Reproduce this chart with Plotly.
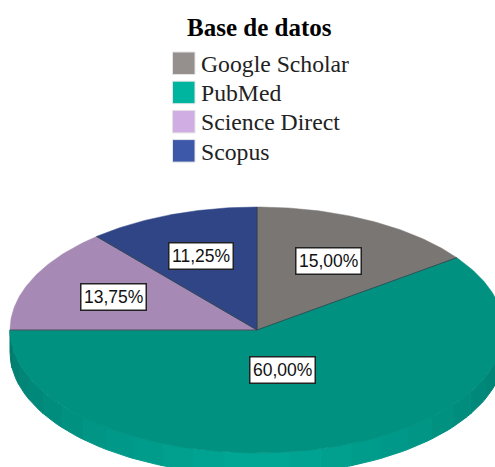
import math
import plotly.graph_objects as go

title = "Base de datos"
categories = ["Google Scholar", "PubMed", "Science Direct", "Scopus"]
values = [15.00, 60.00, 13.75, 11.25]
pie_colors = ["#7a7674", "#009180", "#a68ab5", "#304585"]
legend_colors = ["#958f8d", "#00b5a0", "#d0aee3", "#3d58a8"]

W, H = 495, 467
CX, CY, RX, RY, DEPTH = 257, 330, 247, 123, 22
label_centres = [(328, 261), (282, 370), (113, 297), (201, 256)]


def pt(frac, dy=0):
    a = 2 * math.pi * frac
    return CX + RX * math.sin(a), CY - RY * math.cos(a) + dy


def arc(f0, f1, dy=0, step=0.002):
    n = max(2, int(abs(f1 - f0) / step))
    return [pt(f0 + (f1 - f0) * i / n, dy) for i in range(n + 1)]


fig = go.Figure()

# Rim: a stepped shade along the visible lower half of the PubMed slice
bands = 24
for i in range(bands):
    f0 = 0.25 + 0.5 * i / bands
    f1 = 0.25 + 0.5 * (i + 1) / bands
    t = 1 - abs((f0 + f1) / 2 - 0.5) / 0.25
    g = int(0x78 + (0xa8 - 0x78) * t ** 0.8)
    b = int(0x6a + (0x96 - 0x6a) * t ** 0.8)
    top = arc(f0, f1)
    bottom = arc(f1, f0, DEPTH)
    poly = top + bottom + [top[0]]
    fig.add_trace(go.Scatter(
        x=[p[0] for p in poly], y=[p[1] for p in poly], mode="lines",
        fill="toself", fillcolor=f"rgb(0,{g},{b})",
        line=dict(color=f"rgb(0,{g},{b})", width=1),
        hoverinfo="skip", showlegend=False))

# Top face, computed from the values
start = 0.0
total = sum(values)
edges = []
for name, val, col in zip(categories, values, pie_colors):
    f = val / total
    poly = [(CX, CY)] + arc(start, start + f) + [(CX, CY)]
    fig.add_trace(go.Scatter(
        x=[p[0] for p in poly], y=[p[1] for p in poly], mode="lines",
        fill="toself", fillcolor=col, line=dict(color=col, width=0.5),
        name=name, text=f"{name}: {val:.2f}%".replace(".", ","),
        hoverinfo="text", showlegend=False))
    edges.append(pt(start))
    start += f

# Thin dark divider between neighbouring slices
for ex, ey in edges:
    fig.add_trace(go.Scatter(
        x=[CX, ex], y=[CY, ey], mode="lines",
        line=dict(color="#2f4048", width=0.8),
        hoverinfo="skip", showlegend=False))

annotations = [dict(
    x=259.5, y=27, text=f"<b>{title}</b>", showarrow=False,
    font=dict(family="Liberation Serif", size=25, color="#000"))]
shapes = []
for i, (name, col) in enumerate(zip(categories, legend_colors)):
    y0 = 52 + 29.2 * i
    shapes.append(dict(type="rect", x0=172.5, x1=195, y0=y0, y1=y0 + 22.5,
                       fillcolor=col, line=dict(color="#e4e4e4", width=1)))
    annotations.append(dict(
        x=198.5, y=y0 + 12, xanchor="left", text=name, showarrow=False,
        font=dict(family="Liberation Serif", size=23.7, color="#222")))

for val, (lx, ly) in zip(values, label_centres):
    annotations.append(dict(
        x=lx, y=ly, text=f"{val:.2f}%".replace(".", ","), showarrow=False,
        font=dict(family="Liberation Sans", size=17.5, color="#111"),
        bgcolor="white", bordercolor="#222", borderwidth=1.5, borderpad=2.5))

fig.update_layout(
    width=W, height=H, margin=dict(l=0, r=0, t=0, b=0),
    paper_bgcolor="white", plot_bgcolor="white", showlegend=False,
    xaxis=dict(range=[0, W], visible=False, fixedrange=True),
    yaxis=dict(range=[H, 0], visible=False, fixedrange=True),
    annotations=annotations, shapes=shapes)

fig.write_html("out.html", config={"displayModeBar": False},
               post_script="document.body.style.margin='0';")
